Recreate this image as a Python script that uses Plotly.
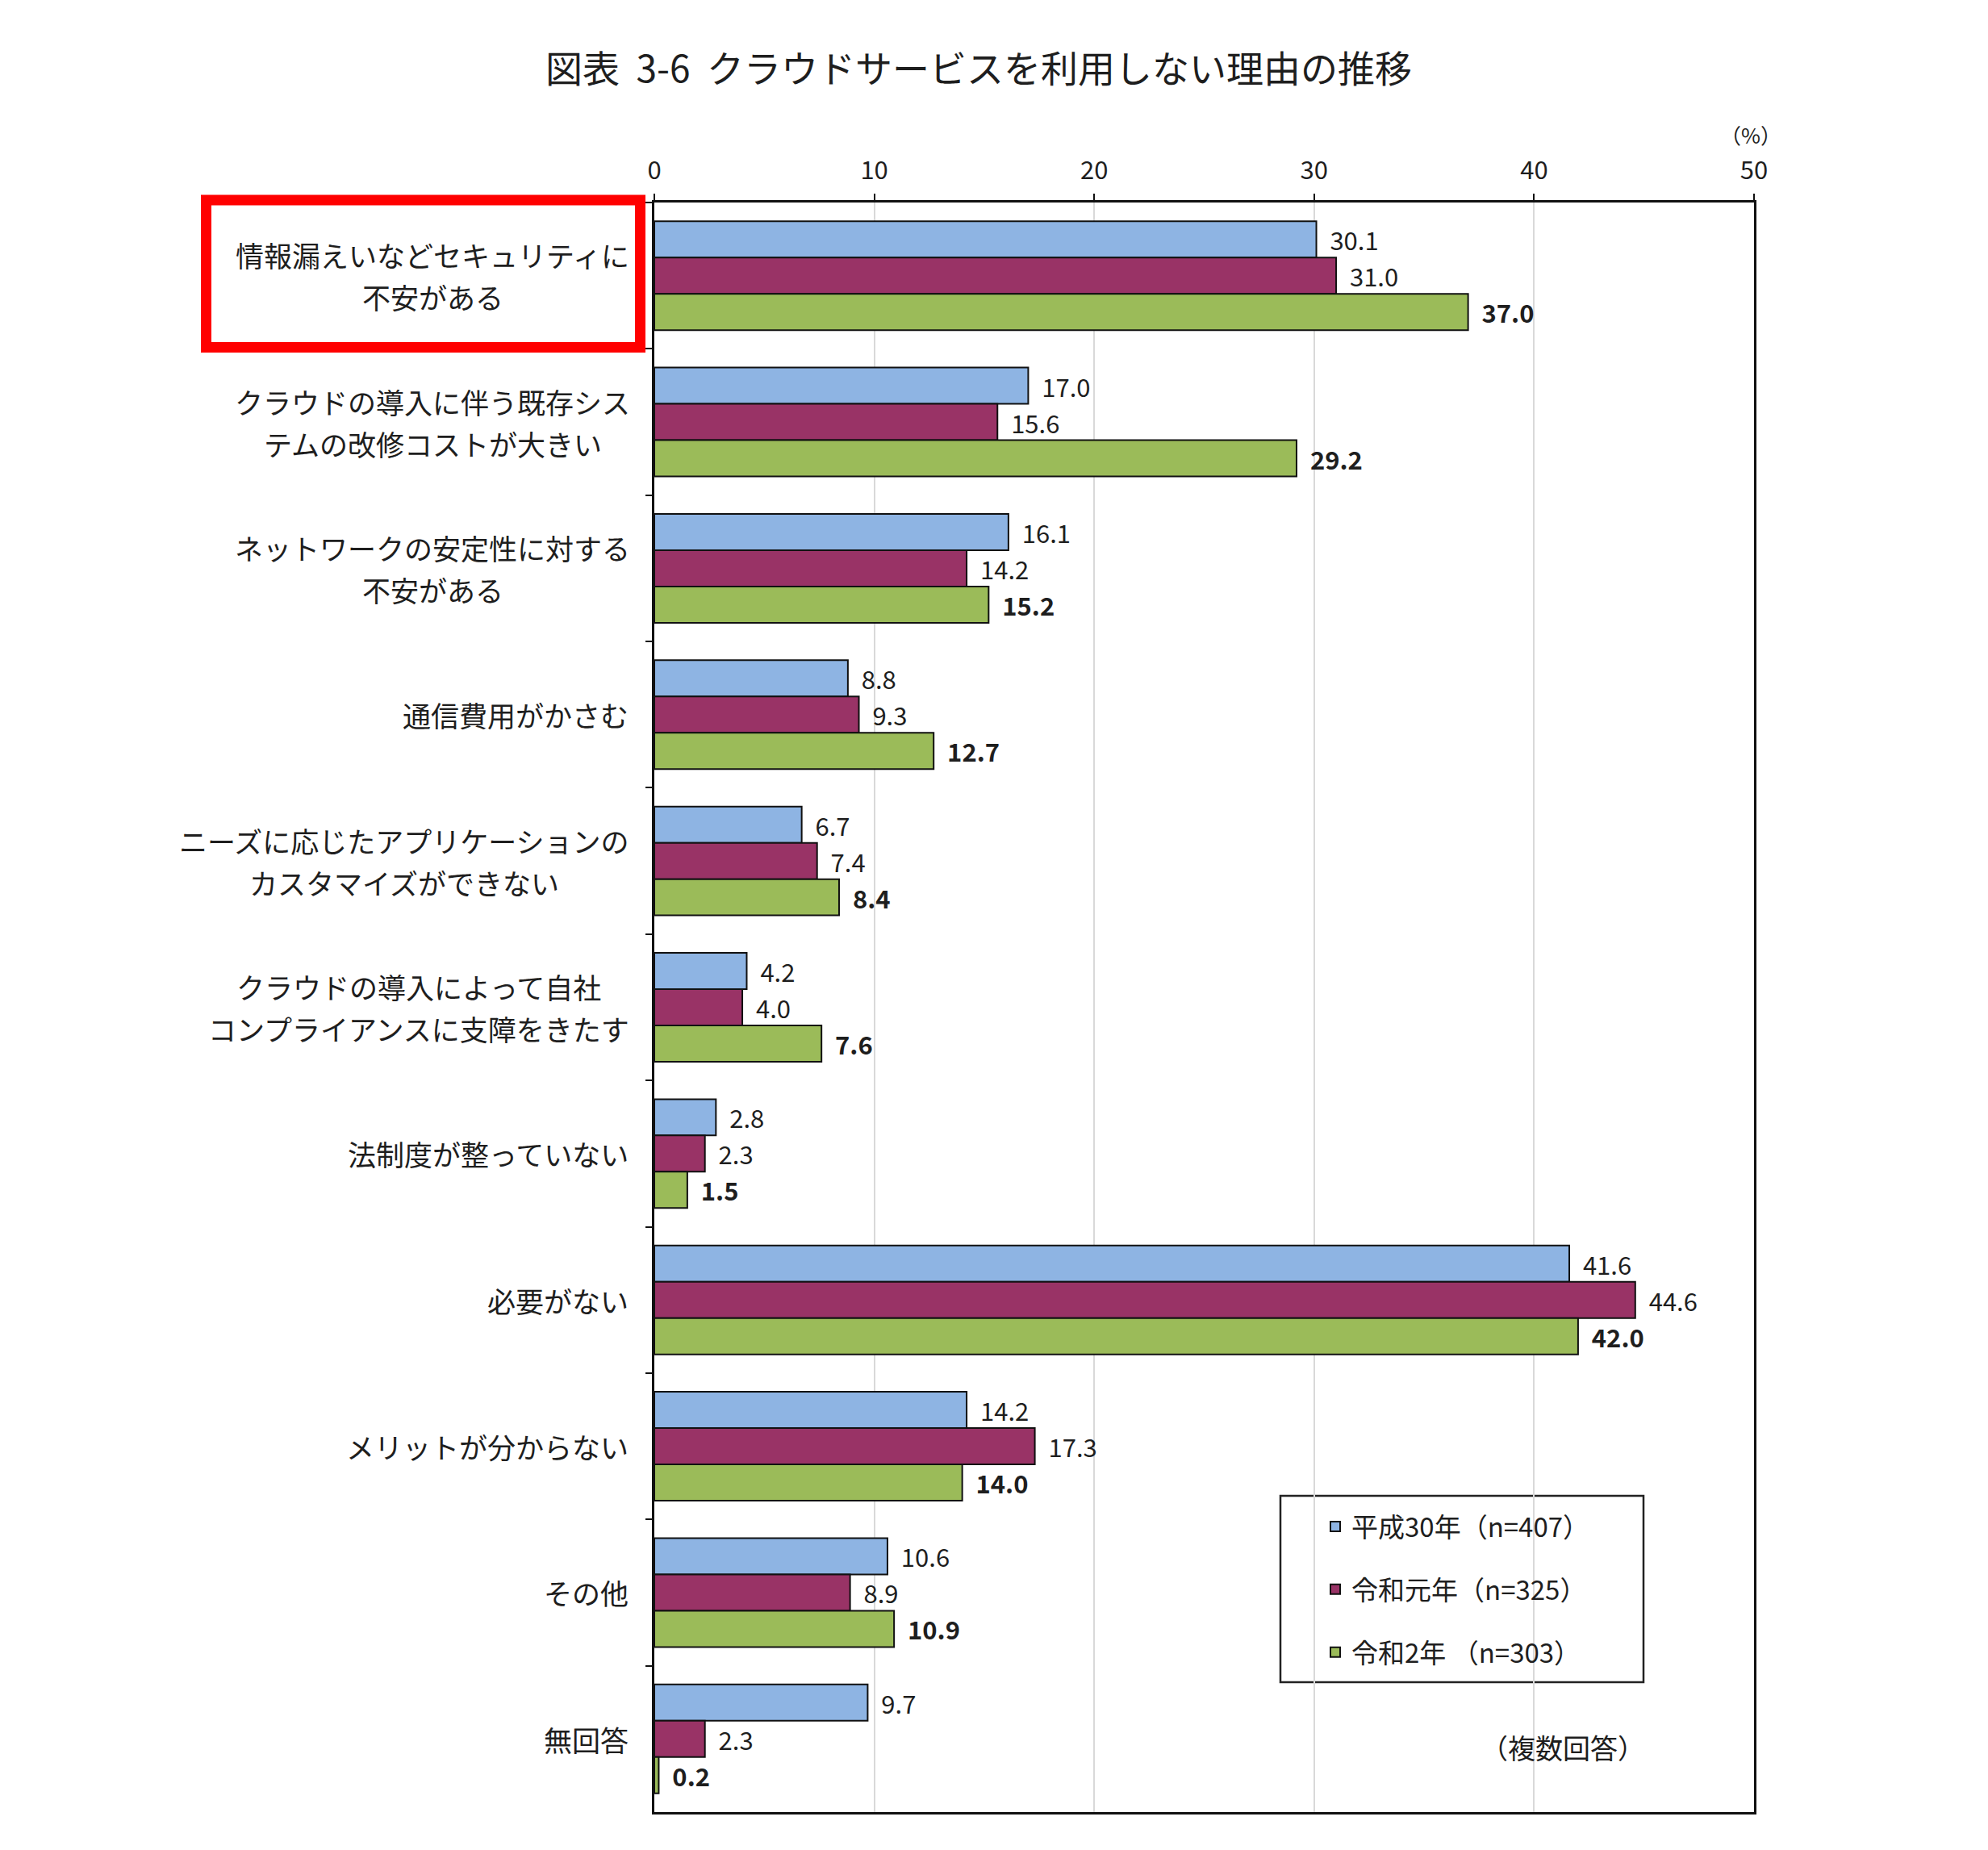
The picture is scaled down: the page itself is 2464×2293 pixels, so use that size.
import plotly.graph_objects as go

categories = [
    "情報漏えいなどセキュリティに<br>不安がある",
    "クラウドの導入に伴う既存シス<br>テムの改修コストが大きい",
    "ネットワークの安定性に対する<br>不安がある",
    "通信費用がかさむ",
    "ニーズに応じたアプリケーションの<br>カスタマイズができない",
    "クラウドの導入によって自社<br>コンプライアンスに支障をきたす",
    "法制度が整っていない",
    "必要がない",
    "メリットが分からない",
    "その他",
    "無回答",
]

h30 = [30.1, 17.0, 16.1, 8.8, 6.7, 4.2, 2.8, 41.6, 14.2, 10.6, 9.7]
r1 = [31.0, 15.6, 14.2, 9.3, 7.4, 4.0, 2.3, 44.6, 17.3, 8.9, 2.3]
r2 = [37.0, 29.2, 15.2, 12.7, 8.4, 7.6, 1.5, 42.0, 14.0, 10.9, 0.2]

series_names = ["平成30年（n=407）", "令和元年（n=325）", "令和2年 （n=303）"]
series_values = [h30, r1, r2]
series_colors = ["#8EB4E3", "#993366", "#9BBB59"]
label_templates = ["\u00a0\u00a0%{x:.1f}", "\u00a0\u00a0%{x:.1f}", "\u00a0\u00a0<b>%{x:.1f}</b>"]

x_ticks = [0, 10, 20, 30, 40, 50]

FONT = "Noto Sans CJK JP, Noto Sans, sans-serif"
TXT = "#1e1e1e"
CAT_SIZE = 35

# page offset (default body margin of the html page)
OFF = 8
W, H = 2464 - 2 * OFF, 2293 - 2 * OFF
PL, PR, PT, PB = 811, 2174, 251, 2246   # plot area in window pixels


def px(X):
    return (X - PL) / (PR - PL)


def py(Y):
    return (PB - Y) / (PB - PT)


fig = go.Figure()
for name, vals, col, tmpl in zip(series_names, series_values, series_colors, label_templates):
    fig.add_trace(go.Bar(
        y=categories, x=vals, name=name, orientation="h",
        marker=dict(color=col, line=dict(color="#111111", width=2)),
        texttemplate=tmpl, textposition="outside", cliponaxis=False,
        constraintext="none",
        textfont=dict(family=FONT, size=31, color=TXT),
        legendgroup=name,
    ))

annotations = []
for cat in categories:
    lines = cat.split("<br>")
    if len(lines) == 1:
        annotations.append(dict(
            x=0, xref="paper", xshift=-30, xanchor="right",
            y=cat, yref="y", yanchor="middle",
            text=cat, showarrow=False,
            font=dict(family=FONT, size=CAT_SIZE, color=TXT),
        ))
    else:
        # centre the lines under each other, block right-aligned to the axis
        longest = max(len(s) for s in lines) * CAT_SIZE
        for i, s in enumerate(lines):
            annotations.append(dict(
                x=0, xref="paper", xshift=-30 - longest / 2, xanchor="center",
                y=cat, yref="y", yanchor="middle", yshift=26 - 52 * i,
                text=s, showarrow=False,
                font=dict(family=FONT, size=CAT_SIZE, color=TXT),
            ))
annotations.append(dict(
    x=px(1937), xref="paper", xanchor="center", y=py(2165), yref="paper", yanchor="middle",
    text="（複数回答）", showarrow=False,
    font=dict(family=FONT, size=34, color=TXT),
))
annotations.append(dict(
    x=px(2170), xref="paper", xanchor="center", y=py(166), yref="paper", yanchor="middle",
    text="（%）", showarrow=False,
    font=dict(family=FONT, size=26, color=TXT),
))

shapes = [
    # red highlight box
    dict(type="rect", xref="paper", yref="paper",
         x0=px(255.5), x1=px(793.5), y0=py(430.5), y1=py(248),
         line=dict(color="#FF0000", width=13), fillcolor="rgba(0,0,0,0)", layer="above"),
    # legend frame
    dict(type="rect", xref="paper", yref="paper",
         x0=px(1587), x1=px(2037), y0=py(2085), y1=py(1854),
         line=dict(color="#222222", width=2.5), fillcolor="white", layer="below"),
]

fig.update_layout(
    width=W, height=H,
    margin=dict(l=PL - OFF, r=W - (PR - OFF), t=PT - OFF, b=H - (PB - OFF)),
    paper_bgcolor="white", plot_bgcolor="rgba(0,0,0,0)",
    barmode="group", bargap=0.256, bargroupgap=0.0,
    font=dict(family=FONT, color=TXT),
    title=dict(text="図表\u00a0\u00a03-6\u00a0\u00a0クラウドサービスを利用しない理由の推移",
               x=(1213 - OFF) / W, xref="container", xanchor="center",
               y=1 - (86 - OFF) / H, yref="container", yanchor="middle",
               font=dict(family=FONT, size=46, color=TXT)),
    xaxis=dict(
        side="top", range=[0, 50], tickvals=x_ticks, ticktext=[str(t) for t in x_ticks],
        showgrid=True, gridcolor="#d9d9d9", gridwidth=2,
        showline=True, linecolor="#111111", linewidth=3, mirror=True,
        ticks="outside", ticklen=8, tickwidth=2, tickcolor="#111111",
        ticklabelstandoff=6,
        tickfont=dict(family=FONT, size=31, color=TXT), zeroline=False,
    ),
    yaxis=dict(
        autorange="reversed", showticklabels=False,
        showline=True, linecolor="#111111", linewidth=2.5, mirror=True,
        ticks="outside", tickson="boundaries", ticklen=8, tickwidth=2, tickcolor="#111111",
        showgrid=False,
    ),
    legend=dict(
        x=px(1635), xanchor="left",
        y=py(1864), yanchor="top",
        bgcolor="rgba(0,0,0,0)", borderwidth=0,
        font=dict(family=FONT, size=33, color=TXT),
        traceorder="grouped", tracegroupgap=32,
    ),
    annotations=annotations,
    shapes=shapes,
)

fig.write_html("out.html")
